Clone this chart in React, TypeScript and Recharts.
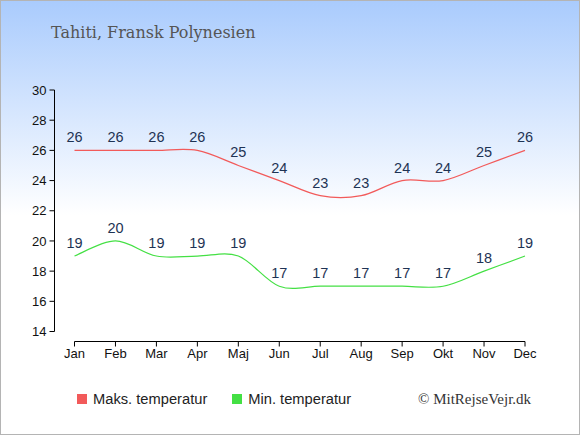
import React from 'react';
import { LineChart, Line, XAxis, YAxis, LabelList, Legend } from 'recharts';

const months = ['Jan', 'Feb', 'Mar', 'Apr', 'Maj', 'Jun', 'Jul', 'Aug', 'Sep', 'Okt', 'Nov', 'Dec'];
const maxTemp = [26, 26, 26, 26, 25, 24, 23, 23, 24, 24, 25, 26];
const minTemp = [19, 20, 19, 19, 19, 17, 17, 17, 17, 17, 18, 19];
const yTicks = [14, 16, 18, 20, 22, 24, 26, 28, 30];

const data = months.map((m, i) => ({ month: m, max: maxTemp[i], min: minTemp[i] }));

const sans = '"Liberation Sans", Arial, sans-serif';
const labelColor = '#1e3354';

// cardinal spline (tension 0) - the original curves overshoot a little between equal values
const cardinal = (context: any) => {
  let xs: number[] = [];
  let ys: number[] = [];
  return {
    areaStart() {},
    areaEnd() {},
    lineStart() {
      xs = [];
      ys = [];
    },
    point(x: number, y: number) {
      xs.push(+x);
      ys.push(+y);
    },
    lineEnd() {
      const n = xs.length;
      if (!n) return;
      context.moveTo(xs[0], ys[0]);
      if (n === 2) {
        context.lineTo(xs[1], ys[1]);
        return;
      }
      const k = 1 / 6;
      for (let i = 0; i < n - 1; i++) {
        const p = i === 0 ? 0 : i - 1;
        const q = i + 2 > n - 1 ? n - 1 : i + 2;
        context.bezierCurveTo(
          xs[i] + k * (xs[i + 1] - xs[p]),
          ys[i] + k * (ys[i + 1] - ys[p]),
          xs[i + 1] - k * (xs[q] - xs[i]),
          ys[i + 1] - k * (ys[q] - ys[i]),
          xs[i + 1],
          ys[i + 1]
        );
      }
    },
  };
};

const renderLegend = (props: any) => (
  <div style={{ position: 'relative', width: 580, height: 20, fontFamily: sans, fontSize: 14.7, color: '#222' }}>
    <div style={{ position: 'absolute', left: 77, top: 0, height: 20, display: 'flex', alignItems: 'center' }}>
      {(props.payload || []).map((p: any) => (
        <div key={p.value} style={{ display: 'flex', alignItems: 'center', marginRight: 25 }}>
          <span style={{ width: 10, height: 10, background: p.color, marginRight: 6 }} />
          <span>{p.value}</span>
        </div>
      ))}
    </div>
    <div
      style={{
        position: 'absolute',
        left: 418,
        top: 0,
        height: 20,
        lineHeight: '20px',
        fontFamily: '"Liberation Serif", "Times New Roman", serif',
        fontSize: 15,
        color: '#333',
      }}
    >
      © MitRejseVejr.dk
    </div>
  </div>
);

export default function App() {
  return (
    <div
      style={{
        position: 'absolute',
        left: 0,
        top: 0,
        width: 580,
        height: 435,
        background: 'linear-gradient(#a9cbfd 0px, #ffffff 215px)',
      }}
    >
      <div
        style={{
          position: 'absolute',
          left: 51,
          top: 23,
          fontFamily: '"DejaVu Serif", serif',
          fontSize: 16,
          color: '#555',
          whiteSpace: 'nowrap',
        }}
      >
        Tahiti, Fransk Polynesien
      </div>
      <LineChart width={580} height={435} data={data} margin={{ top: 90, right: 55, bottom: 63.5, left: 14.5 }}>
        <XAxis xAxisId="gap" height={10} tick={false} axisLine={false} tickLine={false} />
        <XAxis
          xAxisId="main"
          dataKey="month"
          height={30}
          interval={0}
          tickSize={5}
          tickMargin={2.5}
          axisLine={{ stroke: '#000' }}
          tickLine={{ stroke: '#000' }}
          tick={{ fill: '#111', fontSize: 13, fontFamily: sans }}
        />
        <YAxis yAxisId="gap" width={20} tick={false} axisLine={false} tickLine={false} />
        <YAxis
          yAxisId="main"
          width={40}
          domain={[14, 30]}
          ticks={yTicks}
          interval={0}
          tickSize={5}
          tickMargin={3}
          axisLine={{ stroke: '#000' }}
          tickLine={{ stroke: '#000' }}
          tick={{ fill: '#111', fontSize: 13, fontFamily: sans }}
        />
        <Legend
          layout="horizontal"
          verticalAlign="middle"
          align="center"
          wrapperStyle={{ top: 389, left: 0, width: 580 }}
          content={renderLegend}
        />
        <Line
          xAxisId="main"
          yAxisId="main"
          name="Maks. temperatur"
          dataKey="max"
          type={cardinal as any}
          stroke="#f25a5a"
          strokeWidth={1.2}
          dot={false}
          activeDot={false}
          isAnimationActive={false}
        >
          <LabelList dataKey="max" position="top" offset={8} fill={labelColor} fontSize={14.5} fontFamily={sans} />
        </Line>
        <Line
          xAxisId="main"
          yAxisId="main"
          name="Min. temperatur"
          dataKey="min"
          type={cardinal as any}
          stroke="#44e044"
          strokeWidth={1.2}
          dot={false}
          activeDot={false}
          isAnimationActive={false}
        >
          <LabelList dataKey="min" position="top" offset={8} fill={labelColor} fontSize={14.5} fontFamily={sans} />
        </Line>
      </LineChart>
      <div
        style={{
          position: 'absolute',
          left: 0,
          top: 0,
          width: 580,
          height: 435,
          boxSizing: 'border-box',
          border: '1px solid #b4b4b4',
          pointerEvents: 'none',
        }}
      />
    </div>
  );
}
